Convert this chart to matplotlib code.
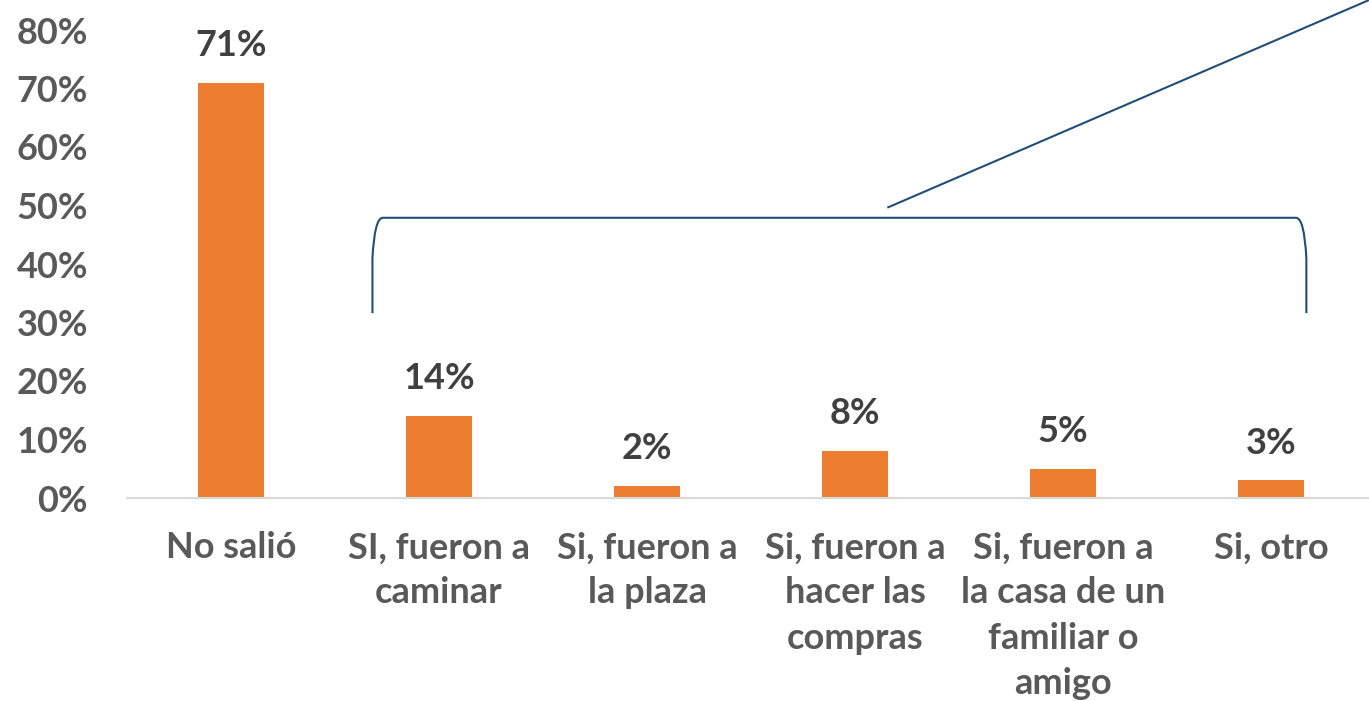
import matplotlib.pyplot as plt
from matplotlib.path import Path
from matplotlib.patches import PathPatch

categories = [
    "No salió",
    "SI, fueron a\ncaminar",
    "Si, fueron a\nla plaza",
    "Si, fueron a\nhacer las\ncompras",
    "Si, fueron a\nla casa de un\nfamiliar o\namigo",
    "Si, otro",
]
values = [71, 14, 2, 8, 5, 3]
y_ticks = [0, 10, 20, 30, 40, 50, 60, 70, 80]

plt.rcParams["font.family"] = ["Lato", "DejaVu Sans"]
plt.rcParams["font.weight"] = "bold"

fig = plt.figure(figsize=(13.69, 7.01), dpi=100)
ax = fig.add_axes([127 / 1369, 203 / 701, 6 * 208 / 1369, 468 / 701])

x = list(range(len(categories)))
ax.bar(x, values, width=0.32, color="#ED7D31", zorder=2)

for xi, v in zip(x, values):
    ax.annotate(f"{v}%", (xi, v), xytext=(0, 15), textcoords="offset points",
                ha="center", va="bottom", fontsize=26, fontweight="bold",
                color="#404040")

ax.set_xlim(-0.5, len(categories) - 0.5)
ax.set_ylim(0, 80)
ax.set_yticks(y_ticks)
ax.set_yticklabels([f"{t}%" for t in y_ticks], fontsize=26, fontweight="bold",
                   color="#595959")
ax.set_xticks(x)
ax.set_xticklabels(categories, fontsize=26, fontweight="bold", color="#595959",
                   linespacing=1.45, va="top")
ax.tick_params(axis="y", length=0, pad=28)
ax.tick_params(axis="x", length=0, pad=24)

for side in ["top", "right", "left"]:
    ax.spines[side].set_visible(False)
ax.spines["bottom"].set_color("#D9D9D9")
ax.spines["bottom"].set_linewidth(1.5)

# bracket over the "Si" answers
bx0, bx1 = 0.68, 5.17
by0, by1 = 31.6, 47.9
verts = [
    (bx0, by0), (bx0, 41.0),
    (bx0 + 0.01, by1), (bx0 + 0.05, by1),
    (bx1 - 0.05, by1),
    (bx1 - 0.01, by1), (bx1, 41.0),
    (bx1, by0),
]
codes = [Path.MOVETO, Path.LINETO, Path.CURVE3, Path.CURVE3, Path.LINETO,
         Path.CURVE3, Path.CURVE3, Path.LINETO]
ax.add_patch(PathPatch(Path(verts, codes), fill=False, edgecolor="#1F4E79",
                       linewidth=1.5, clip_on=False, zorder=3))
ax.plot([3.16, 5.47], [49.7, 85.1], color="#1F4E79", linewidth=1.5,
        clip_on=False, zorder=3)

fig.savefig("out.png", dpi=100)
